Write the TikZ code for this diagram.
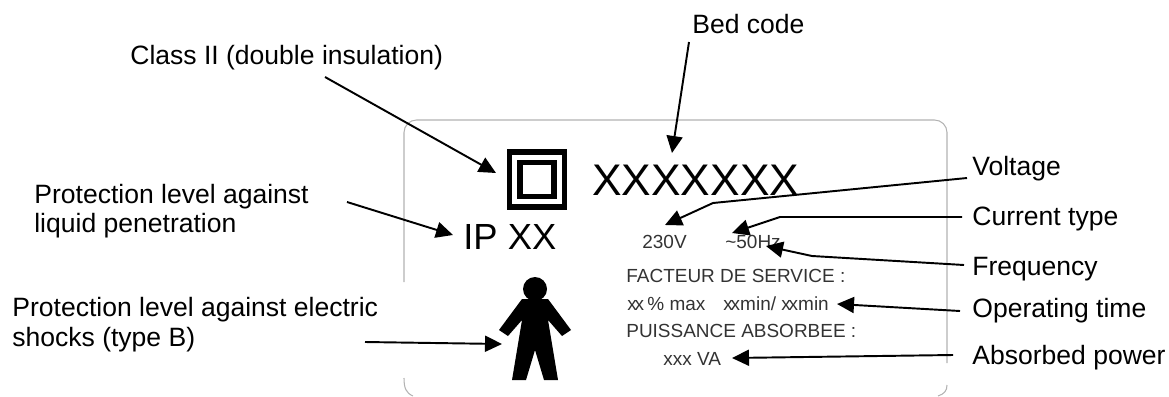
\documentclass[tikz,border=0pt]{standalone}
\usepackage{fontspec}
\setmainfont{Liberation Sans}
\usetikzlibrary{arrows.meta}
\newcommand{\tightxx}{x\kern-1.2pt x}

\begin{document}
\begin{tikzpicture}[x=0.02cm,y=-0.02cm]
\tikzstyle{callout} = [inner sep=0pt, anchor=base west, font=\fontsize{15.1}{17}\selectfont]
\tikzstyle{plate} = [inner sep=0pt, anchor=base west, text=black!80, font=\fontsize{10.8}{12}\selectfont]
\tikzstyle{pointer} = [-{Triangle[length=0.34cm,width=0.32cm]}, line width=1.1pt]
\tikzstyle{border} = [draw=black!30, line width=0.6pt]
\tikzstyle{squarering} = [draw, line width=2.9pt, inner sep=0pt]

\useasboundingbox (0,0) rectangle (1169,396);

\draw[border, rounded corners=0.25cm] (404,282) -- (404,120) -- (947,120) -- (947,363);
\draw[border] (404,378) .. controls (404,388) and (406,393) .. (413,396);
\draw[border] (947,385) .. controls (947,391) and (944,394) .. (938,396);

\node at (537,179.5) [squarering, minimum size=1.1cm] (OUTER) {};
\node at (537,179.5) [squarering, minimum size=0.68cm] (INNER) {};

\node at (592,195) [inner sep=0pt, anchor=base west, font=\fontsize{25.2}{28}\selectfont] (CODE) {XXXXXXX};
\node at (463,249) [inner sep=0pt, anchor=base west, font=\fontsize{20.7}{24}\selectfont] (IP) {IP XX};

\node at (642,248) [plate] (VOLT) {230V};
\node at (725,248) [plate] (HERTZ) {\textasciitilde50Hz};
\node at (626,282) [plate] (FACTEUR) {FACTEUR DE SERVICE :};
\node at (627,310) [plate] (MAX) {\tightxx\,\% max};
\node at (723,310) [plate] (MINUTES) {\tightxx min/ \tightxx min};
\node at (626,337) [plate] (PUISSANCE) {PUISSANCE ABSORBEE :};
\node at (663,365) [plate] (VA) {xxx VA};

\node at (535,289) [circle, fill, inner sep=0pt, minimum size=0.48cm] (HEAD) {};
\fill (522,299) -- (548,299) -- (571,330) -- (562,336) -- (548,320) -- (558,380) -- (544,380) -- (535,350)
  -- (526,380) -- (512,380) -- (522,320) -- (508,336) -- (499,330) -- cycle;

\node at (130,64) [callout] (CLASS) {Class II (double insulation)};
\node at (692,33) [callout] (BED) {Bed code};
\node at (34,203) [callout] (LIQUIDA) {Protection level against};
\node at (34,232) [callout] (LIQUIDB) {liquid penetration};
\node at (12,316) [callout] (SHOCKA) {Protection level against electric};
\node at (12,346) [callout] (SHOCKB) {shocks (type B)};
\node at (972,175) [callout] (VOLTAGE) {Voltage};
\node at (972,225) [callout] (CURRENT) {Current type};
\node at (972,275) [callout] (FREQ) {Frequency};
\node at (972,317) [callout] (TIME) {Operating time};
\node at (972,364) [callout] (POWER) {Absorbed power};

\coordinate (C1) at (325,77);
\coordinate (C2) at (496,173);
\draw[pointer] (C1) -- (C2);

\coordinate (B1) at (689,42);
\coordinate (B2) at (672,153);
\draw[pointer] (B1) -- (B2);

\coordinate (L1) at (347,202);
\coordinate (L2) at (453,235);
\draw[pointer] (L1) -- (L2);

\coordinate (S1) at (365,342);
\coordinate (S2) at (502,344);
\draw[pointer] (S1) -- (S2);

\coordinate (V1) at (967,178);
\coordinate (V2) at (665,225);
\draw[pointer] (V1) -- (713,203) -- (V2);

\coordinate (T1) at (962,217);
\coordinate (T2) at (732,233);
\draw[pointer] (T1) -- (780,217) -- (T2);

\coordinate (F1) at (964,265);
\coordinate (F2) at (766,246);
\draw[pointer] (F1) -- (812,256) -- (F2);

\coordinate (O1) at (960,311);
\coordinate (O2) at (837,304);
\draw[pointer] (O1) -- (O2);

\coordinate (A1) at (953,355);
\coordinate (A2) at (732,358);
\draw[pointer] (A1) -- (A2);

\end{tikzpicture}
\end{document}
